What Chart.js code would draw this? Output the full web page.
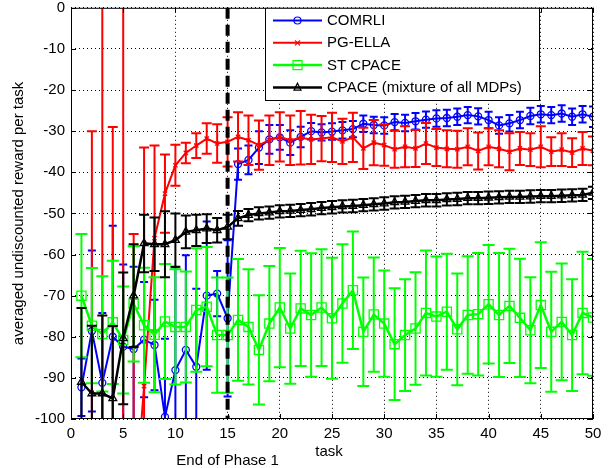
<!DOCTYPE html>
<html lang="en">
<head>
    <meta charset="UTF-8">
    <title>Average reward per task</title>
    <script src="https://cdn.jsdelivr.net/npm/chart.js"></script>
    <style>
        body { margin: 0; padding: 0; background: #fff; }
        .chart-box { width: 611px; height: 468px; position: relative; }
        canvas { display: block; }
    </style>
</head>
<body>
<div class="chart-box"><canvas id="rewardChart" width="611" height="468"></canvas></div>
<script>
    // data
    const tasks = [1, 2, 3, 4, 5, 6, 7, 8, 9, 10, 11, 12, 13, 14, 15, 16, 17, 18, 19, 20,
        21, 22, 23, 24, 25, 26, 27, 28, 29, 30, 31, 32, 33, 34, 35, 36, 37, 38, 39, 40,
        41, 42, 43, 44, 45, 46, 47, 48, 49, 50];

    const comrliMean = [-92.3, -78.6, -91.2, -80, -82.4, -83, -80.7, -82, -99.5, -88.1,
        -83.2, -87.3, -70, -69.5, -75.5, -38, -37, -34, -32, -31.5,
        -32.8, -31.4, -30, -30.3, -30.1, -29.8, -29.5, -28.2, -28.5, -28.6,
        -27.8, -28, -27.6, -27.2, -26.9, -26.8, -26.5, -26.1, -26.4, -27.3,
        -28.6, -28.1, -27.3, -26.3, -25.9, -26.1, -25.7, -26.5, -25.9, -26.5];
    const comrliErr = [7, 19.6, 17, 27, 20, 20, 14, 11, 19, 25,
        23, 19, 18, 5.5, 19, 3.8, 3.5, 4, 3.5, 3,
        3, 2.5, 2, 2, 2, 2, 2, 2, 2, 2,
        2, 2, 2, 2, 2, 2, 2, 2, 2, 2,
        2, 2, 2, 2, 2, 2, 2, 2, 2, 2.5];

    const pgellaMean = [-160, -140, -130, -135, -125, -125, -92, -56, -45.2, -38.3,
        -35.3, -33.5, -31.8, -33, -32.6, -31.4, -32.2, -33.4, -32.2, -31.4,
        -32.2, -31.6, -32, -31.8, -31.5, -32.5, -31.5, -34.2, -32.8, -33.4,
        -34.4, -33.8, -34.2, -33, -34, -34.3, -34.4, -33.8, -34.8, -33.8,
        -34.3, -35, -34.2, -34.5, -33.8, -35, -34.5, -35.2, -34.2, -34.8];
    const pgellaErr = [40, 110, 140, 106, 130, 70, 58, 22.5, 9.5, 5,
        2.5, 3, 3.7, 4.7, 6, 6, 6, 6, 6, 6,
        6, 6.5, 6, 5.5, 6, 5.5, 6, 5, 5.5, 5,
        4.5, 5, 4.5, 5, 4.5, 4.5, 4.5, 4.5, 4.5, 4.5,
        4.5, 4.5, 4, 4, 5, 3.5, 4, 3.5, 4, 3.5];

    const stCpaceMean = [-70, -77.3, -79.3, -76.5, -80.8, -72, -77.2, -79.5, -76.3, -77.6,
        -77.6, -73.5, -72.7, -79.6, -79.6, -75.9, -77.6, -83.2, -76.8, -72.9,
        -78, -73.1, -74.7, -72.9, -75.5, -71.9, -68.7, -78.8, -74.6, -76.8,
        -81.8, -79.6, -78, -74.2, -75.1, -73.9, -78.2, -74.7, -74.5, -72.1,
        -74.7, -72.5, -75.4, -78.4, -72.3, -78.8, -76.4, -79.6, -74.2, -75.3];
    const stCpaceErr = [15, 14, 14, 15, 13, 14, 14, 14, 14, 14,
        13.5, 15, 14.5, 14, 14, 14.8, 14, 13.3, 14, 14.5,
        13.4, 14, 15, 14.2, 14.7, 14.4, 14.3, 13.2, 13.9, 12.9,
        13.6, 13.6, 13.7, 15.2, 14.6, 14.1, 13.6, 14.3, 14.9, 14.4,
        15.1, 13.9, 14.4, 12.9, 15.3, 14.6, 14.2, 13.6, 14.9, 14.2];

    const cpaceMean = [-91, -93.8, -93.8, -95, -80.4, -70, -57.3, -57.5, -57.5, -56.5,
        -54.5, -54.1, -53.7, -54.1, -53.3, -51.2, -50.4, -50, -49.8, -49.5,
        -49.4, -49.2, -49, -48.7, -48.5, -48.3, -48.2, -48, -47.8, -47.6,
        -47.3, -47.2, -47, -46.8, -46.8, -46.6, -46.5, -46.3, -46.3, -46.2,
        -46.1, -46, -46, -45.9, -45.8, -45.8, -45.7, -45.6, -45.5, -45];
    const cpaceErr = [18, 16.5, 19, 17.6, 16, 12.5, 7, 6.5, 8, 6.5,
        4, 3.8, 3.5, 3, 3, 1.8, 1.5, 1.5, 1.5, 1.5,
        1.5, 1.5, 1.5, 1.5, 1.5, 1.5, 1.5, 1.5, 1.5, 1.5,
        1.5, 1.5, 1.5, 1.5, 1.5, 1.5, 1.5, 1.5, 1.5, 1.5,
        1.5, 1.5, 1.5, 1.5, 1.5, 1.5, 1.5, 1.5, 1.5, 1.5];

    const seriesNames = ['COMRLI', 'PG-ELLA', 'ST CPACE', 'CPACE (mixture of all MDPs)'];
    const phaseEnd = 15;
    const yMin = -100, yMax = 0, yStep = 10;
    const xMin = 0, xMax = 50, xStep = 5;

    const FONT = '"Liberation Sans", Arial, sans-serif';

    function toPoints(means) {
        return tasks.map((t, i) => ({ x: t, y: means[i] }));
    }

    function drawMarker(ctx, style, x, y, r) {
        ctx.beginPath();
        if (style === 'circle') {
            ctx.arc(x, y, r, 0, Math.PI * 2);
        } else if (style === 'crossRot') {
            ctx.moveTo(x - r, y - r); ctx.lineTo(x + r, y + r);
            ctx.moveTo(x - r, y + r); ctx.lineTo(x + r, y - r);
        } else if (style === 'rect') {
            ctx.rect(x - r, y - r, 2 * r, 2 * r);
        } else if (style === 'triangle') {
            ctx.moveTo(x, y - r * 1.2);
            ctx.lineTo(x + r, y + r * 0.8);
            ctx.lineTo(x - r, y + r * 0.8);
            ctx.closePath();
        }
        ctx.stroke();
    }

    // error bars, drawn just under each dataset so the layering follows the datasets
    const errorBars = {
        id: 'errorBars',
        beforeDatasetDraw(chart, args) {
            const ds = chart.data.datasets[args.index];
            if (!ds.errors) return;
            const { ctx, chartArea: a, scales: { x, y } } = chart;
            ctx.save();
            ctx.beginPath();
            ctx.rect(a.left, a.top, a.right - a.left, a.bottom - a.top);
            ctx.clip();
            ctx.strokeStyle = ds.borderColor;
            ctx.lineWidth = ds.errWidth;
            const w = ds.capHalf;
            ds.data.forEach((p, i) => {
                const e = ds.errors[i];
                const px = x.getPixelForValue(p.x);
                const top = y.getPixelForValue(p.y + e);
                const bot = y.getPixelForValue(p.y - e);
                ctx.beginPath();
                ctx.moveTo(px, top); ctx.lineTo(px, bot);
                ctx.moveTo(px - w, top); ctx.lineTo(px + w, top);
                ctx.moveTo(px - w, bot); ctx.lineTo(px + w, bot);
                ctx.stroke();
            });
            ctx.restore();
        }
    };

    // box, inward ticks, phase line, titles and legend
    const decorations = {
        id: 'decorations',
        afterDatasetsDraw(chart) {
            const { ctx, chartArea: a, scales: { x } } = chart;
            // dashed line at end of phase 1
            const px = x.getPixelForValue(phaseEnd);
            ctx.save();
            ctx.strokeStyle = '#000';
            ctx.lineWidth = 4;
            ctx.setLineDash([11, 6]);
            ctx.beginPath();
            ctx.moveTo(px, a.top);
            ctx.lineTo(px, a.bottom);
            ctx.stroke();
            ctx.restore();
        },
        afterDraw(chart) {
            const { ctx, chartArea: a, scales: { x, y } } = chart;
            ctx.save();
            // axes box
            ctx.strokeStyle = '#000';
            ctx.lineWidth = 1;
            ctx.strokeRect(a.left + 0.5, a.top + 0.5, a.right - a.left - 1, a.bottom - a.top - 1);
            // inward ticks
            ctx.beginPath();
            x.ticks.forEach(t => {
                const p = Math.round(x.getPixelForValue(t.value)) + 0.5;
                ctx.moveTo(p, a.bottom); ctx.lineTo(p, a.bottom - 5);
                ctx.moveTo(p, a.top); ctx.lineTo(p, a.top + 5);
            });
            y.ticks.forEach(t => {
                const p = Math.round(y.getPixelForValue(t.value)) + 0.5;
                ctx.moveTo(a.left, p); ctx.lineTo(a.left + 5, p);
                ctx.moveTo(a.right, p); ctx.lineTo(a.right - 5, p);
            });
            ctx.stroke();

            // axis titles
            ctx.fillStyle = '#000';
            ctx.font = '15px ' + FONT;
            ctx.textAlign = 'center';
            ctx.textBaseline = 'middle';
            ctx.fillText('task', (a.left + a.right) / 2 - 3, 452);
            ctx.fillText('End of Phase 1', x.getPixelForValue(phaseEnd), 461);
            ctx.save();
            ctx.translate(19, (a.top + a.bottom) / 2);
            ctx.rotate(-Math.PI / 2);
            ctx.fillText('averaged undiscounted reward per task', 0, 0);
            ctx.restore();

            // legend
            const box = { l: 265, t: a.top, r: 540, b: 101 };
            ctx.fillStyle = '#fff';
            ctx.fillRect(box.l, box.t, box.r - box.l, box.b - box.t);
            ctx.strokeStyle = '#000';
            ctx.lineWidth = 1;
            ctx.strokeRect(box.l + 0.5, box.t + 0.5, box.r - box.l - 1, box.b - box.t - 1);
            chart.data.datasets.forEach((ds, i) => {
                const ly = 20.5 + i * 22.3;
                ctx.strokeStyle = ds.borderColor;
                ctx.lineWidth = ds.borderWidth;
                ctx.beginPath();
                ctx.moveTo(273, ly); ctx.lineTo(322, ly);
                ctx.stroke();
                ctx.lineWidth = 1.2;
                const r = ds.pointStyle === 'rect' ? 4.5 : (ds.pointStyle === 'crossRot' ? 2.5 : 3.5);
                drawMarker(ctx, ds.pointStyle, 297.5, ly, r);
                ctx.fillStyle = '#000';
                ctx.textAlign = 'left';
                ctx.textBaseline = 'middle';
                ctx.font = '15px ' + FONT;
                ctx.fillText(ds.label, 327, ly + 0.5);
            });
            ctx.restore();
        }
    };

    function makeDataset(label, means, errs, color, style, radius, width, capHalf, order) {
        return {
            label: label,
            data: toPoints(means),
            errors: errs,
            borderColor: color,
            backgroundColor: color,
            borderWidth: width,
            pointStyle: style,
            pointRadius: radius,
            pointBorderWidth: 1.3,
            pointBorderColor: color,
            pointBackgroundColor: 'rgba(0,0,0,0)',
            tension: 0,
            fill: false,
            clip: 0,
            errWidth: 2,
            capHalf: capHalf,
            order: order
        };
    }

    const ctx = document.getElementById('rewardChart').getContext('2d');
    new Chart(ctx, {
        type: 'line',
        data: {
            datasets: [
                makeDataset(seriesNames[0], comrliMean, comrliErr, '#0000ff', 'circle', 3.5, 2, 4, 4),
                makeDataset(seriesNames[1], pgellaMean, pgellaErr, '#ff0000', 'crossRot', 3, 2, 5, 3),
                makeDataset(seriesNames[2], stCpaceMean, stCpaceErr, '#00ff00', 'rect', 6.5, 2.5, 6, 2),
                makeDataset(seriesNames[3], cpaceMean, cpaceErr, '#000000', 'triangle', 4.5, 2.5, 5, 1)
            ]
        },
        options: {
            responsive: false,
            animation: false,
            events: [],
            layout: { padding: { left: 0, right: 18, top: 7, bottom: 0 } },
            plugins: {
                legend: { display: false },
                tooltip: { enabled: false }
            },
            scales: {
                x: {
                    type: 'linear',
                    min: xMin,
                    max: xMax,
                    afterFit: s => {
                        s.height = 49;
                        s.paddingLeft = 0;
                        s.paddingRight = 0;
                    },
                    ticks: {
                        stepSize: xStep,
                        color: '#000',
                        padding: 6,
                        maxRotation: 0,
                        font: { family: FONT, size: 15 }
                    },
                    grid: { color: '#000', lineWidth: 1, drawTicks: false },
                    border: { display: false, dash: [1, 3] }
                },
                y: {
                    min: yMin,
                    max: yMax,
                    afterFit: s => {
                        s.width = 71;
                        s.paddingTop = 0;
                        s.paddingBottom = 0;
                    },
                    ticks: {
                        stepSize: yStep,
                        color: '#000',
                        padding: 6,
                        font: { family: FONT, size: 15 }
                    },
                    grid: { color: '#000', lineWidth: 1, drawTicks: false },
                    border: { display: false, dash: [1, 3] }
                }
            }
        },
        plugins: [errorBars, decorations]
    });
</script>
</body>
</html>
